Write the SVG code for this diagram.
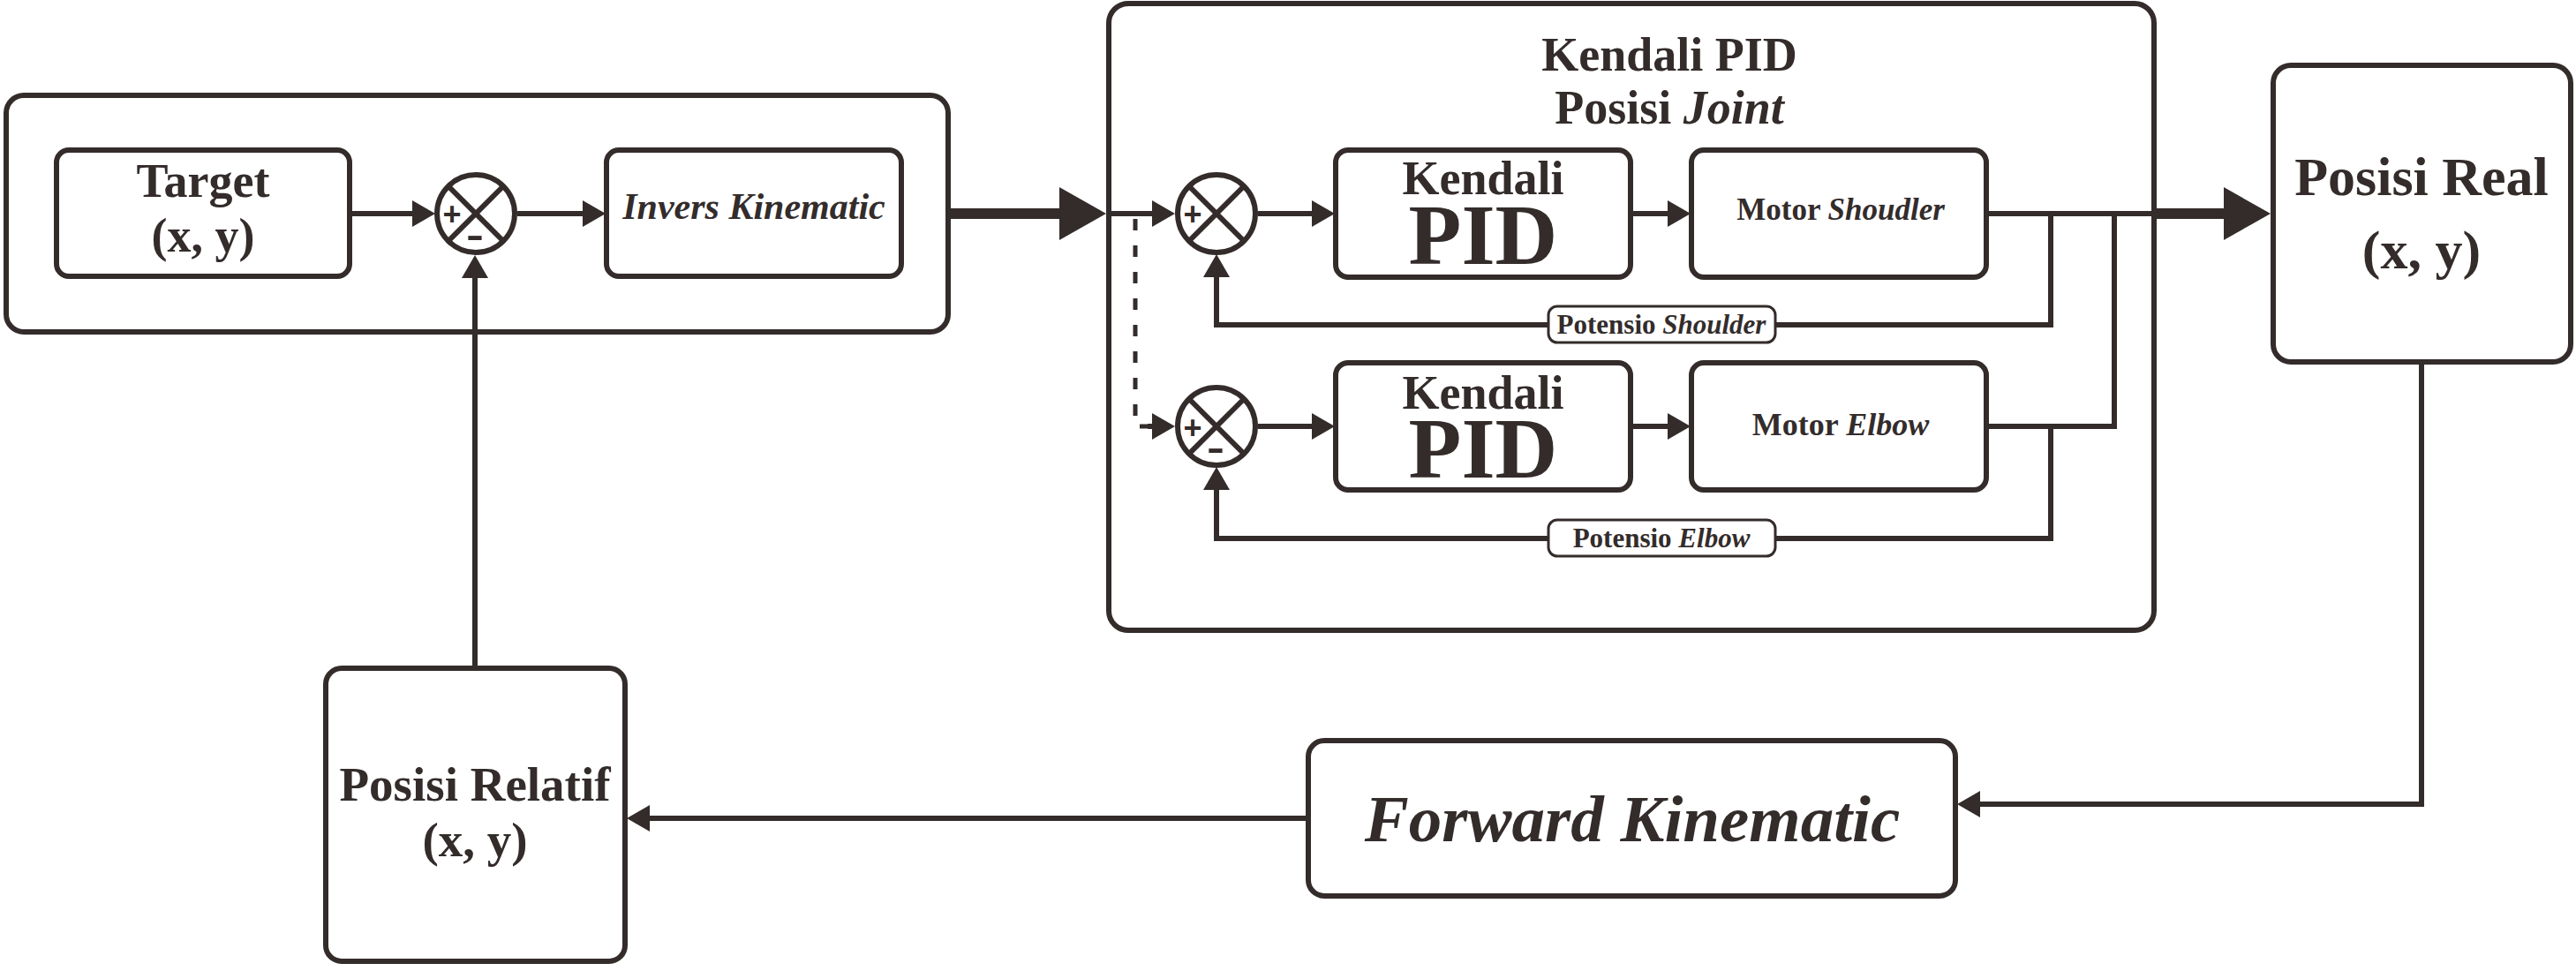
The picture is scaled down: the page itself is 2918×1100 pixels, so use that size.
<svg xmlns="http://www.w3.org/2000/svg" width="2918" height="1100" viewBox="0 0 2918 1100">
<style>
.box{fill:#fff;stroke:#332c2b;stroke-width:6}
.lbl{fill:#fff;stroke:#332c2b;stroke-width:3}
.sum{fill:#fff;stroke:#332c2b;stroke-width:6}
.x{stroke:#332c2b;stroke-width:6}
.c{fill:none;stroke:#332c2b;stroke-width:6;stroke-linecap:butt;stroke-linejoin:miter}
.thick{fill:none;stroke:#332c2b;stroke-width:12}
.dash{fill:none;stroke:#332c2b;stroke-width:5;stroke-dasharray:13 17}
text{font-family:"Liberation Serif","Times New Roman",serif;font-weight:bold;fill:#332c2b;text-anchor:middle}
.it{font-style:italic}
.sg{font-family:"Liberation Sans",Arial,sans-serif;font-weight:bold}
</style>
<defs>
<marker id="ah" markerUnits="userSpaceOnUse" markerWidth="26" markerHeight="30" viewBox="0 -15 26 30" refX="12" refY="0" orient="auto"><path d="M0,-15 L26,0 L0,15 z" fill="#332c2b"/></marker>
<marker id="big" markerUnits="userSpaceOnUse" markerWidth="53" markerHeight="60" viewBox="0 -30 53 60" refX="33" refY="0" orient="auto"><path d="M0,-30 L53,0 L0,30 z" fill="#332c2b"/></marker>
</defs>

<g id="outer-input">
<rect class="box" x="7" y="108" width="1067" height="268" rx="20"/>
</g>
<g id="pid-group">
<rect class="box" x="1256" y="4" width="1184" height="710" rx="22"/>
<text x="1891" y="80" font-size="54">Kendali PID</text>
<text x="1891" y="140" font-size="54">Posisi <tspan class="it">Joint</tspan></text>
</g>

<g id="connectors">
<path class="c" d="M396,242 H479" marker-end="url(#ah)"/>
<path class="c" d="M586,242 H672" marker-end="url(#ah)"/>
<path class="c" d="M538,757 V303" marker-end="url(#ah)"/>
<path class="thick" d="M1074,242 H1233" marker-end="url(#big)"/>
<path class="c" d="M1255,242 H1317" marker-end="url(#ah)"/>
<path class="dash" d="M1286,248 V483 H1317"/>
<path class="c" d="M1300,483 H1317" marker-end="url(#ah)"/>
<path class="c" d="M1425,242 H1498" marker-end="url(#ah)"/>
<path class="c" d="M1847,242 H1901" marker-end="url(#ah)"/>
<path class="c" d="M2250,242 H2440"/>
<path class="thick" d="M2440,242 H2552" marker-end="url(#big)"/>
<path class="c" d="M2323,242 V368 H1378 V302" marker-end="url(#ah)"/>
<path class="c" d="M1425,483 H1498" marker-end="url(#ah)"/>
<path class="c" d="M1847,483 H1901" marker-end="url(#ah)"/>
<path class="c" d="M2250,483 H2395 V242"/>
<path class="c" d="M2323,483 V610 H1378 V543" marker-end="url(#ah)"/>
<path class="c" d="M2743,410 V911 H2231" marker-end="url(#ah)"/>
<path class="c" d="M1482,927 H724" marker-end="url(#ah)"/>
</g>

<g id="target">
<rect class="box" x="64" y="170" width="332" height="143" rx="14"/>
<text x="230" y="223" font-size="54">Target</text>
<text x="230" y="285" font-size="54">(x, y)</text>
</g>
<g id="sum1">
<circle class="sum" cx="539" cy="242" r="44"/>
<line class="x" x1="508" y1="211" x2="570" y2="273"/>
<line class="x" x1="570" y1="211" x2="508" y2="273"/>
<text class="sg" x="512" y="255" font-size="36">+</text>
<text class="sg" x="528" y="280" font-size="40" textLength="20" lengthAdjust="spacingAndGlyphs" style="text-anchor:start">-</text>
</g>
<g id="invers-kinematic">
<rect class="box" x="687" y="170" width="334" height="143" rx="14"/>
<text class="it" x="854" y="248" font-size="42">Invers Kinematic</text>
</g>

<g id="sum2a">
<circle class="sum" cx="1378" cy="242" r="44"/>
<line class="x" x1="1347" y1="211" x2="1409" y2="273"/>
<line class="x" x1="1409" y1="211" x2="1347" y2="273"/>
<text class="sg" x="1351" y="255" font-size="36">+</text>
</g>
<g id="pid-shoulder">
<rect class="box" x="1513" y="170" width="334" height="144" rx="14"/>
<text x="1680" y="220" font-size="54">Kendali</text>
<text x="1680" y="299" font-size="98">PID</text>
</g>
<g id="motor-shoulder">
<rect class="box" x="1916" y="170" width="334" height="144" rx="14"/>
<text x="2085" y="249" font-size="35">Motor <tspan class="it">Shoudler</tspan></text>
</g>
<g id="potensio-shoulder">
<rect class="lbl" x="1754" y="347" width="257" height="41" rx="10"/>
<text x="1882" y="378" font-size="31">Potensio <tspan class="it">Shoulder</tspan></text>
</g>

<g id="sum2b">
<circle class="sum" cx="1378" cy="483" r="44"/>
<line class="x" x1="1347" y1="452" x2="1409" y2="514"/>
<line class="x" x1="1409" y1="452" x2="1347" y2="514"/>
<text class="sg" x="1351" y="497" font-size="36">+</text>
<text class="sg" x="1367" y="521" font-size="40" textLength="20" lengthAdjust="spacingAndGlyphs" style="text-anchor:start">-</text>
</g>
<g id="pid-elbow">
<rect class="box" x="1513" y="411" width="334" height="144" rx="14"/>
<text x="1680" y="463" font-size="54">Kendali</text>
<text x="1680" y="541" font-size="98">PID</text>
</g>
<g id="motor-elbow">
<rect class="box" x="1916" y="411" width="334" height="144" rx="14"/>
<text x="2085" y="493" font-size="36">Motor <tspan class="it">Elbow</tspan></text>
</g>
<g id="potensio-elbow">
<rect class="lbl" x="1754" y="589" width="257" height="41" rx="10"/>
<text x="1882" y="620" font-size="31">Potensio <tspan class="it">Elbow</tspan></text>
</g>

<g id="posisi-real">
<rect class="box" x="2575" y="74" width="337" height="336" rx="20"/>
<text x="2743" y="221" font-size="62">Posisi Real</text>
<text x="2743" y="304" font-size="62">(x, y)</text>
</g>
<g id="forward-kinematic">
<rect class="box" x="1482" y="839" width="733" height="176" rx="18"/>
<text class="it" x="1849" y="953" font-size="75">Forward Kinematic</text>
</g>
<g id="posisi-relatif">
<rect class="box" x="369" y="757" width="339" height="332" rx="18"/>
<text x="538" y="907" font-size="55">Posisi Relatif</text>
<text x="538" y="970" font-size="55">(x, y)</text>
</g>
</svg>
